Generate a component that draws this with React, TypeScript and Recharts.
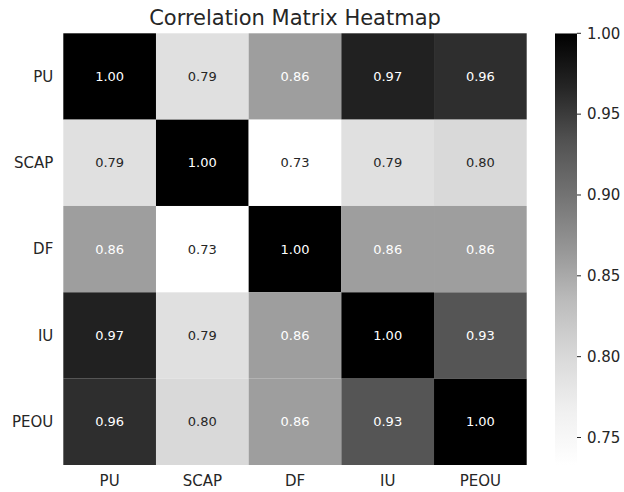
import React from 'react'
import { ScatterChart, Scatter, XAxis, YAxis } from 'recharts'

const labels = ['PU', 'SCAP', 'DF', 'IU', 'PEOU']
const rowPU = [1.0, 0.79, 0.86, 0.97, 0.96]
const rowSCAP = [0.79, 1.0, 0.73, 0.79, 0.8]
const rowDF = [0.86, 0.73, 1.0, 0.86, 0.86]
const rowIU = [0.97, 0.79, 0.86, 1.0, 0.93]
const rowPEOU = [0.96, 0.8, 0.86, 0.93, 1.0]
const colorbarTicks = [0.75, 0.8, 0.85, 0.9, 0.95, 1.0]
const vMin = 0.733
const vMax = 1.0

// matplotlib "Greys" stops, white -> black
const greys = [255, 240, 217, 189, 150, 115, 82, 37, 0]

const greyLevel = (v: number) => {
  const t = Math.max(0, Math.min(1, (v - vMin) / (vMax - vMin))) * (greys.length - 1)
  const i = Math.min(Math.floor(t), greys.length - 2)
  const f = t - i
  return Math.round(greys[i] + (greys[i + 1] - greys[i]) * f)
}

const cellColor = (v: number) => {
  const g = greyLevel(v)
  return `rgb(${g},${g},${g})`
}

const textColor = (v: number) => {
  const c = greyLevel(v) / 255
  const lin = c <= 0.03928 ? c / 12.92 : Math.pow((c + 0.055) / 1.055, 2.4)
  return lin > 0.408 ? '#262626' : '#ffffff'
}

const matrix = [rowPU, rowSCAP, rowDF, rowIU, rowPEOU]
const cells = matrix.flatMap((row, i) => row.map((v, j) => ({ x: j, y: i, v })))
const colorbarData = [{ x: 0.5, y: (vMin + vMax) / 2 }]
// top of the bar is black, bottom white
const barStops = [...greys].reverse()

const W = 624
const H = 492
const PLOT_LEFT = 63.3
const PLOT_RIGHT = 526.7
const PLOT_TOP = 33.3
const PLOT_BOTTOM = 465
const CW = (PLOT_RIGHT - PLOT_LEFT) / 5
const CH = (PLOT_BOTTOM - PLOT_TOP) / 5
const BAR_W = 22
const FONT = '"DejaVu Sans", sans-serif'
const INK = '#262626'

const Cell = (props: any) => {
  const { cx, cy, payload } = props
  return (
    <g>
      <rect x={cx - CW / 2} y={cy - CH / 2} width={CW} height={CH} fill={cellColor(payload.v)} />
      <text
        x={cx}
        y={cy}
        textAnchor="middle"
        dominantBaseline="central"
        fontSize={13}
        fontFamily={FONT}
        fill={textColor(payload.v)}
      >
        {payload.v.toFixed(2)}
      </text>
    </g>
  )
}

const ColorbarShape = (props: any) => {
  const { cx, cy } = props
  const h = PLOT_BOTTOM - PLOT_TOP
  return (
    <g>
      <defs>
        <linearGradient id="greysBar" x1="0" y1="0" x2="0" y2="1">
          {barStops.map((g, i) => (
            <stop
              key={i}
              offset={`${(i / (barStops.length - 1)) * 100}%`}
              stopColor={`rgb(${g},${g},${g})`}
            />
          ))}
        </linearGradient>
      </defs>
      <rect x={cx - BAR_W / 2} y={cy - h / 2} width={BAR_W} height={h} fill="url(#greysBar)" />
    </g>
  )
}

const App: React.FC = () => {
  return (
    <div style={{ position: 'absolute', left: 0, top: 0, width: W, height: H, background: '#fff', fontFamily: FONT }}>
      <div
        style={{
          position: 'absolute',
          left: PLOT_LEFT,
          width: PLOT_RIGHT - PLOT_LEFT,
          top: 6,
          textAlign: 'center',
          fontSize: 21,
          lineHeight: 1.164,
          color: INK,
        }}
      >
        Correlation Matrix Heatmap
      </div>
      <div style={{ position: 'absolute', left: 0, top: 0 }}>
        <ScatterChart
          width={540}
          height={H}
          margin={{ top: PLOT_TOP, right: 540 - PLOT_RIGHT, bottom: 0, left: 0 }}
        >
          <XAxis
            type="number"
            dataKey="x"
            domain={[-0.5, 4.5]}
            ticks={[0, 1, 2, 3, 4]}
            tickFormatter={(i: number) => labels[i]}
            height={H - PLOT_BOTTOM}
            axisLine={false}
            tickLine={false}
            tickSize={0}
            tickMargin={10}
            tick={{ fill: INK, fontSize: 15, fontFamily: FONT }}
            interval={0}
          />
          <YAxis
            type="number"
            dataKey="y"
            domain={[-0.5, 4.5]}
            ticks={[0, 1, 2, 3, 4]}
            tickFormatter={(i: number) => labels[i]}
            reversed
            width={PLOT_LEFT}
            axisLine={false}
            tickLine={false}
            tickSize={0}
            tickMargin={10}
            tick={{ fill: INK, fontSize: 15, fontFamily: FONT }}
            interval={0}
          />
          <Scatter data={cells} shape={<Cell />} isAnimationActive={false} />
        </ScatterChart>
      </div>
      <div style={{ position: 'absolute', left: 540, top: 0 }}>
        <ScatterChart
          width={84}
          height={H}
          margin={{ top: PLOT_TOP, right: 0, bottom: H - PLOT_BOTTOM, left: 15 }}
        >
          <XAxis type="number" dataKey="x" domain={[0, 1]} hide />
          <YAxis
            type="number"
            dataKey="y"
            orientation="right"
            domain={[vMin, vMax]}
            ticks={colorbarTicks}
            tickFormatter={(v: number) => v.toFixed(2)}
            width={84 - 15 - BAR_W}
            axisLine={false}
            tickSize={4}
            tickMargin={6}
            tickLine={{ stroke: INK }}
            tick={{ fill: INK, fontSize: 15, fontFamily: FONT }}
            allowDataOverflow
            interval={0}
          />
          <Scatter data={colorbarData} shape={<ColorbarShape />} isAnimationActive={false} />
        </ScatterChart>
      </div>
    </div>
  )
}

export default App
